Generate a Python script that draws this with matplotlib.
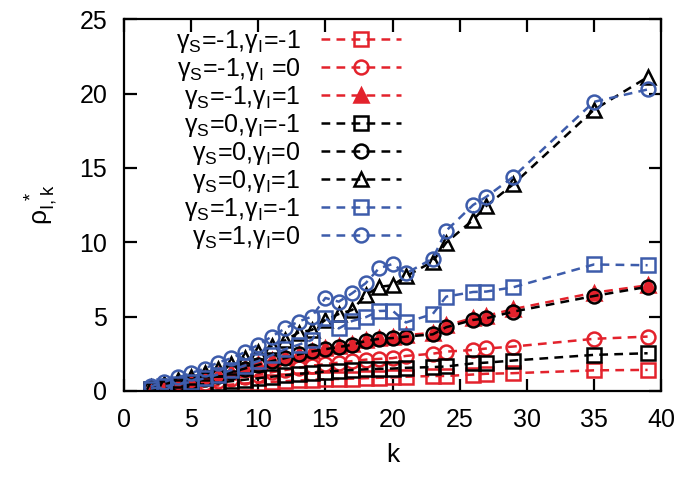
import matplotlib
matplotlib.use('Agg')
import matplotlib.pyplot as plt

plt.rcParams['font.family'] = ['Liberation Sans', 'DejaVu Sans']
plt.rcParams['mathtext.default'] = 'regular'

k = [2, 3, 4, 5, 6, 7, 8, 9, 10, 11, 12, 13, 14, 15, 16, 17, 18, 19, 20, 21,
     23, 24, 26, 27, 29, 35, 39]

# gS=-1, gI=-1
rho_m1_m1 = [0.07, 0.12, 0.17, 0.22, 0.3, 0.36, 0.42, 0.5, 0.55, 0.6, 0.65, 0.7, 0.75,
             0.78, 0.8, 0.82, 0.85, 0.88, 0.9, 0.95, 1.0, 1.0, 1.1, 1.15, 1.19, 1.38, 1.41]
# gS=-1, gI=0
rho_m1_0 = [0.1, 0.2, 0.3, 0.4, 0.5, 0.65, 0.8, 0.95, 1.1, 1.25, 1.4, 1.55, 1.7,
            1.8, 1.9, 2.0, 2.1, 2.15, 2.2, 2.35, 2.5, 2.64, 2.75, 2.85, 2.98, 3.5, 3.65]
# gS=-1, gI=1
rho_m1_1 = [0.17, 0.32, 0.48, 0.63, 0.85, 1.05, 1.3, 1.55, 1.8, 2.05, 2.25, 2.5, 2.7,
            2.85, 3.0, 3.15, 3.4, 3.55, 3.6, 3.75, 3.9, 4.4, 4.9, 5.05, 5.5, 6.6, 7.1]
# gS=0, gI=-1
rho_0_m1 = [0.1, 0.2, 0.25, 0.35, 0.45, 0.55, 0.65, 0.75, 0.85, 0.95, 1.05, 1.15, 1.2,
            1.3, 1.35, 1.4, 1.45, 1.48, 1.5, 1.55, 1.6, 1.64, 1.85, 1.9, 2.04, 2.42, 2.53]
# gS=0, gI=0
rho_0_0 = [0.15, 0.3, 0.45, 0.6, 0.8, 1.0, 1.25, 1.5, 1.75, 2.0, 2.2, 2.45, 2.65,
           2.8, 2.95, 3.1, 3.35, 3.5, 3.55, 3.65, 3.8, 4.28, 4.77, 4.88, 5.33, 6.38, 7.0]
# gS=0, gI=1
rho_0_1 = [0.25, 0.45, 0.7, 0.9, 1.2, 1.5, 1.8, 2.2, 2.6, 3.0, 3.4, 3.92, 4.1,
           4.77, 5.17, 5.44, 6.45, 7.0, 7.1, 7.7, 8.7, 9.97, 11.5, 12.45, 13.9, 18.9, 21.1]
# gS=1, gI=-1
rho_1_m1 = [0.15, 0.3, 0.45, 0.6, 0.85, 1.1, 1.4, 1.7, 2.0, 2.4, 2.8, 3.1, 3.43,
            4.88, 4.2, 4.7, 4.95, 5.37, 5.4, 4.6, 5.17, 6.34, 6.65, 6.68, 6.97, 8.5, 8.45]
# gS=1, gI=0
rho_1_0 = [0.3, 0.6, 0.9, 1.2, 1.5, 1.9, 2.2, 2.6, 3.1, 3.65, 4.2, 4.66, 5.0,
           6.25, 6.0, 6.57, 7.24, 8.25, 8.53, 7.9, 8.9, 10.77, 12.5, 13.06, 14.4, 19.44, 20.27]

red = '#e3222c'
black = '#000000'
blue = '#3d5cab'

series = [
    (rho_m1_m1, r'$\gamma_S$=-1,$\gamma_I$=-1', red, 's', False),
    (rho_m1_0, r'$\gamma_S$=-1,$\gamma_I$ =0', red, 'o', False),
    (rho_m1_1, r'$\gamma_S$=-1,$\gamma_I$=1', red, '^', True),
    (rho_0_m1, r'$\gamma_S$=0,$\gamma_I$=-1', black, 's', False),
    (rho_0_0, r'$\gamma_S$=0,$\gamma_I$=0', black, 'o', False),
    (rho_0_1, r'$\gamma_S$=0,$\gamma_I$=1', black, '^', False),
    (rho_1_m1, r'$\gamma_S$=1,$\gamma_I$=-1', blue, 's', False),
    (rho_1_0, r'$\gamma_S$=1,$\gamma_I$=0', blue, 'o', False),
]

fig = plt.figure(figsize=(6.85, 4.79), dpi=100)
ax = fig.add_axes([0.181, 0.184, 0.784, 0.776])

for vals, lab, col, mk, filled in series:
    ax.plot(k, vals, color=col, linestyle='--', dashes=(3.5, 2.5), linewidth=1.8,
            marker=mk, markersize=10, markeredgewidth=1.8,
            markerfacecolor=col if filled else 'none', markeredgecolor=col,
            label=lab)

ax.set_xlim(0, 40)
ax.set_ylim(0, 25)
ax.set_xticks(range(0, 41, 5))
ax.set_yticks(range(0, 26, 5))
ax.tick_params(direction='in', length=9, width=1.6, labelsize=18,
               top=True, right=True, pad=12)
for s in ax.spines.values():
    s.set_linewidth(1.6)

ax.set_xlabel('k', fontsize=19, labelpad=8)
ax.set_ylabel(r'$\rho_{I,k}^{\ *}$', fontsize=19, labelpad=14)

leg = ax.legend(loc='upper right', bbox_to_anchor=(0.515, 0.977), frameon=False,
                fontsize=18, markerfirst=False, handlelength=3.2, handletextpad=0.8,
                labelspacing=0.04, borderpad=0, borderaxespad=0)
for t in leg.get_texts():
    t.set_ha('right')

fig.savefig('out.png', dpi=100)
